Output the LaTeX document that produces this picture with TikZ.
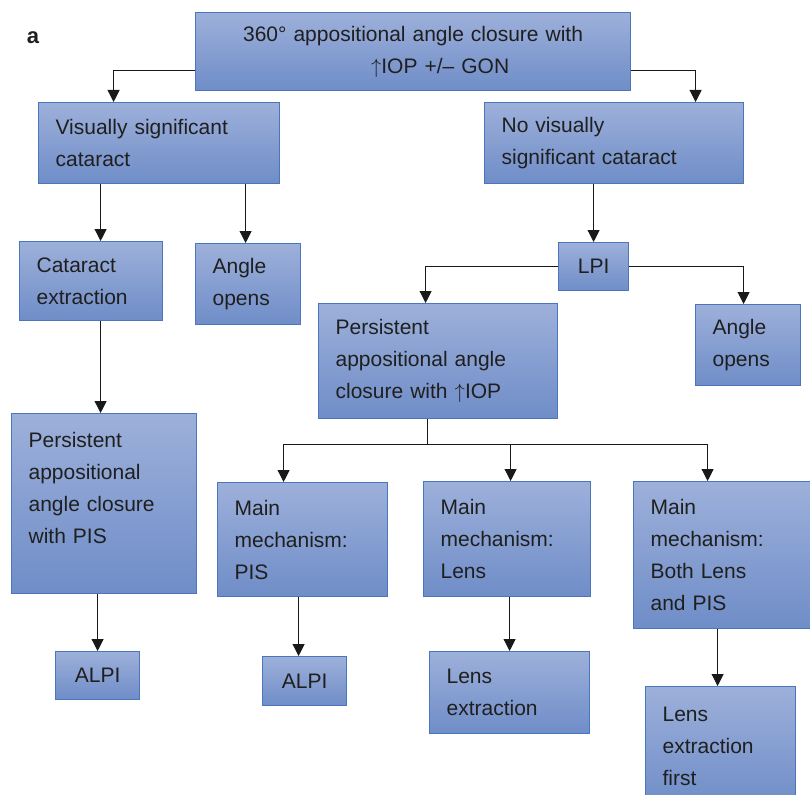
\documentclass[tikz,border=0pt]{standalone}
\usepackage{fontspec}
\setmainfont{Liberation Sans}
\usetikzlibrary{arrows.meta}

\definecolor{boxtop}{HTML}{9DB0DA}
\definecolor{boxbottom}{HTML}{6F8DC8}
\definecolor{boxborder}{HTML}{4A76C0}
\definecolor{boxtext}{HTML}{1F1F1F}

\begin{document}
\begin{tikzpicture}[
    x=1pt, y=-1pt,
    box/.style={draw=boxborder, line width=1.2pt, top color=boxtop,
                bottom color=boxbottom, anchor=north west, align=left,
                inner xsep=17pt, inner ysep=0pt, text=boxtext,
                font=\fontsize{21}{32}\selectfont},
    cbox/.style={box, align=center},
    arr/.style={-{Triangle[length=12pt, width=12pt]}, line width=1pt, black!90},
    lnk/.style={line width=1pt, black!90},
    lbl/.style={font=\fontsize{22}{26}\selectfont\bfseries, text=boxtext},
]
\useasboundingbox (0,0) rectangle (810,794);

% --- Panel label ---
\node[lbl] (panel) at (33,38) {a};

% --- Top ---
\node[cbox, text width=401pt, minimum height=78pt] (top) at (195,12)
    {360° appositional angle closure with\\\hspace*{54pt}$\uparrow$IOP +/– GON};

% --- Second row ---
\node[box, text width=207pt, minimum height=81pt] (vsc) at (38,102)
    {Visually significant\\cataract};
\node[box, text width=225pt, minimum height=81pt] (nvsc) at (484,102)
    {No visually\\significant cataract};

% --- Left branch ---
\node[box, text width=109pt, minimum height=79pt] (cat) at (19,241)
    {Cataract\\extraction};
\node[box, text width=71pt, minimum height=81pt] (opl) at (195,243)
    {Angle\\opens};
\node[box, text width=151pt, minimum height=180pt] (pis) at (11,413)
    {Persistent\\appositional\\angle closure\\with PIS\\~};
\node[cbox, text width=50pt, minimum height=48pt] (alpil) at (55,651) {ALPI};

% --- Right branch ---
\node[cbox, text width=36pt, minimum height=48pt] (lpi) at (558,242) {LPI};
\node[box, text width=205pt, minimum height=115pt] (pio) at (318,303)
    {Persistent\\appositional angle\\closure with $\uparrow$IOP};
\node[box, text width=71pt, minimum height=81pt] (opr) at (695,304)
    {Angle\\opens};

% --- Mechanisms ---
\node[box, text width=136pt, minimum height=114pt] (mpis) at (217,482)
    {Main\\mechanism:\\PIS};
\node[box, text width=133pt, minimum height=115pt] (mlens) at (423,481)
    {Main\\mechanism:\\Lens};
\node[box, text width=144pt, minimum height=147pt] (mboth) at (633,481)
    {Main\\mechanism:\\Both Lens\\and PIS};

% --- Treatments ---
\node[cbox, text width=50pt, minimum height=49pt] (alpim) at (262,656) {ALPI};
\node[box, text width=126pt, minimum height=82pt] (lens) at (429,651)
    {Lens\\extraction};
\node[box, text width=116pt, minimum height=120pt] (lensf) at (645,686)
    {Lens\\extraction\\first};

% --- Connections ---
\draw[arr] ([yshift=-19pt]top.west) -| ([xshift=-45.5pt]vsc.north);
\draw[arr] ([yshift=-19pt]top.east) -| ([xshift=81.5pt]nvsc.north);

\draw[arr] ([xshift=9.5pt]cat.north |- vsc.south) -- ([xshift=9.5pt]cat.north);
\draw[arr] ([xshift=-2.5pt]opl.north |- vsc.south) -- ([xshift=-2.5pt]opl.north);
\draw[arr] ([xshift=9.5pt]cat.south) -- ([xshift=9.5pt]cat.south |- pis.north);
\draw[arr] (alpil.north |- pis.south) -- (alpil.north);

\draw[arr] (lpi.north |- nvsc.south) -- (lpi.north);
\draw[arr] (lpi.west) -| ([xshift=-12.5pt]pio.north);
\draw[arr] (lpi.east) -| ([xshift=-4.5pt]opr.north);

\draw[lnk] ([xshift=-10.5pt]pio.south) -- ++(0,25) coordinate (fork);
\draw[arr] (fork) -| ([xshift=-19pt]mpis.north);
\draw[arr] (fork) -| ([xshift=3.5pt]mlens.north);
\draw[arr] (fork) -| ([xshift=-15pt]mboth.north);

\draw[arr] ([xshift=-6pt]alpim.north |- mpis.south) -- ([xshift=-6pt]alpim.north);
\draw[arr] (lens.north |- mlens.south) -- (lens.north);
\draw[arr] ([xshift=-3pt]lensf.north |- mboth.south) -- ([xshift=-3pt]lensf.north);

\end{tikzpicture}
\end{document}
